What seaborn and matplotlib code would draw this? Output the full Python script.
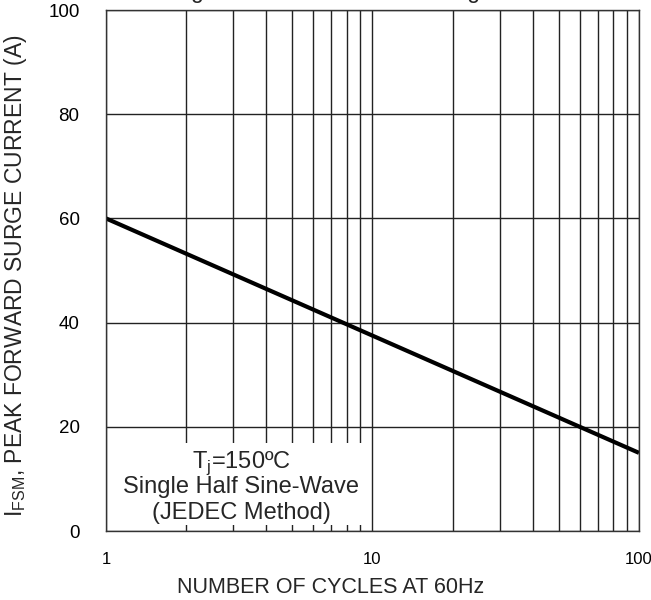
import matplotlib
matplotlib.use("Agg")
import matplotlib.pyplot as plt
from matplotlib.patches import Rectangle
from matplotlib.ticker import NullFormatter, LogLocator
import pandas as pd
import seaborn as sns

# values
cycles = [1, 100]
surge_current = [60, 15]

x_ticks = [1, 10, 100]
y_ticks = [0, 20, 40, 60, 80, 100]

note_lines = ["T$_\\mathregular{j}$=150ºC", "Single Half Sine-Wave", "(JEDEC Method)"]
title_text = "Fig. 3 Maximum Forward Surge Current"

sns.set_style("white")
plt.rcParams["font.family"] = ["Liberation Sans", "DejaVu Sans"]

df = pd.DataFrame({"cycles": cycles, "current": surge_current})

fig = plt.figure(figsize=(6.51, 6.0), dpi=100)
ax = fig.add_axes([0.1628, 0.115, 0.8187, 0.8683])

sns.lineplot(data=df, x="cycles", y="current", color="black", linewidth=3,
             solid_capstyle="butt", ax=ax, zorder=2)

ax.set_xscale("log")
ax.set_xlim(1, 100)
ax.set_ylim(0, 100)
ax.set_xticks(x_ticks, labels=[str(t) for t in x_ticks])
ax.xaxis.set_minor_locator(LogLocator(base=10, subs=range(2, 10)))
ax.xaxis.set_minor_formatter(NullFormatter())
ax.set_yticks(y_ticks)

# grid: every decade subdivision on x, major steps on y
ax.grid(True, which="both", axis="x", color="#222222", linewidth=1.0)
ax.grid(True, which="major", axis="y", color="#222222", linewidth=1.0)
ax.tick_params(which="both", length=0, colors="black")
ax.tick_params(axis="y", labelsize=13.5, pad=19)
ax.tick_params(axis="x", labelsize=12, pad=15)

for sp in ax.spines.values():
    sp.set_visible(True)
    sp.set_color("#333333")
    sp.set_linewidth(1.0)

ax.set_xlabel("NUMBER OF CYCLES AT 60Hz", fontsize=15.5)
ax.set_ylabel("I$_\\mathregular{FSM}$, PEAK FORWARD SURGE CURRENT (A)", fontsize=16.5)
ax.xaxis.set_label_coords(0.422, -0.088)
ax.yaxis.set_label_coords(-0.145, 0.49)

# white note box, text clipped at its lower edge
box = Rectangle((0.0075, 0.0115), 0.4825, 0.1575, transform=ax.transAxes,
                facecolor="white", edgecolor="none", zorder=2.1)
ax.add_patch(box)
for line, yy in zip(note_lines, [0.1209, 0.0729, 0.023]):
    t = ax.text(0.254, yy, line, transform=ax.transAxes, ha="center",
                va="baseline", fontsize=17, zorder=2.2)
    t.set_clip_path(box)

# title sits above the canvas, only descenders peek in
fig.text(172 / 651, 1.0033, title_text, ha="left", va="baseline", fontsize=16.5)

fig.savefig("out.png", dpi=100)
